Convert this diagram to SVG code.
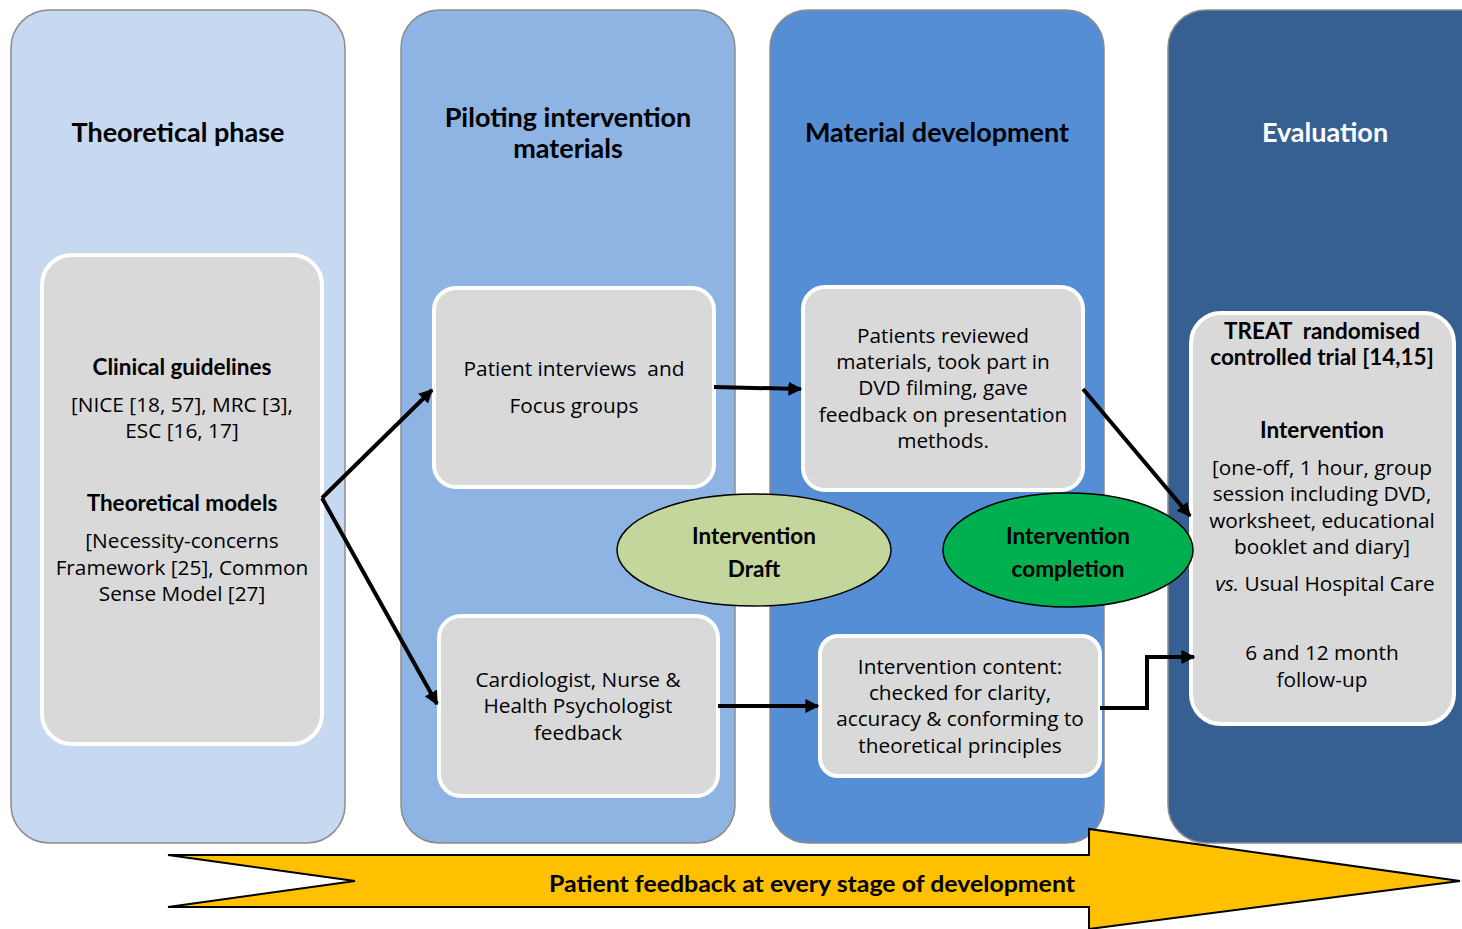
<svg xmlns="http://www.w3.org/2000/svg" width="1462" height="929" viewBox="0 0 1462 929">
<style>
.col{stroke:#8c8c8c;stroke-width:1.5}
.box{fill:#d9d9d9;stroke:#fff;stroke-width:4}
.h{font-family:Lato,"Open Sans",sans-serif;font-weight:bold;font-size:27px;text-anchor:middle}
.t{font-family:"Open Sans","Liberation Sans",sans-serif;font-size:20.8px;text-anchor:middle;fill:#000}
.b{font-family:Lato,"Open Sans",sans-serif;font-weight:bold;font-size:22.5px;text-anchor:middle}
.c{stroke:#000;stroke-width:4;fill:none;marker-end:url(#ah)}
</style>
<defs>
<marker id="ah" viewBox="0 0 10 10" refX="9" refY="5" markerWidth="3.5" markerHeight="3.5" orient="auto" markerUnits="strokeWidth">
<path d="M0,0 L10,5 L0,10 Z" fill="#000"/>
</marker>
</defs>
<rect width="1462" height="929" fill="#fff"/>
<g id="col1"><rect class="col" x="11" y="10" width="334" height="833" rx="38" fill="#c6d9f0"/>
<text class="h" x="178" y="142">Theoretical phase</text></g>
<g id="col2"><rect class="col" x="401" y="10" width="334" height="833" rx="38" fill="#8eb4e3"/>
<text class="h" x="568" y="127">Piloting intervention</text><text class="h" x="568" y="158">materials</text></g>
<g id="col3"><rect class="col" x="770" y="10" width="334" height="833" rx="38" fill="#558ed5"/>
<text class="h" x="937" y="142">Material development</text></g>
<g id="col4"><rect class="col" x="1168" y="10" width="334" height="833" rx="38" fill="#366092"/>
<text class="h" x="1325" y="142" fill="#fff">Evaluation</text></g>

<g id="arrowband"><polygon points="168,855 1089,855 1089,829 1460,881 1089,929 1089,907 168,907 355,881" fill="#ffc000" stroke="#000" stroke-width="2"/>
<text class="b" x="812" y="892" textLength="526" lengthAdjust="spacingAndGlyphs">Patient feedback at every stage of development</text></g>

<g id="theory"><rect class="box" x="42" y="255" width="280" height="489" rx="30"/>
<text class="b" x="182" y="375">Clinical guidelines</text>
<text class="t" x="182" y="412">[NICE [18, 57], MRC [3],</text>
<text class="t" x="182" y="438">ESC [16, 17]</text>
<text class="b" x="182" y="511">Theoretical models</text>
<text class="t" x="182" y="548">[Necessity-concerns</text>
<text class="t" x="182" y="575">Framework [25], Common</text>
<text class="t" x="182" y="601">Sense Model [27]</text></g>

<g id="interviews"><rect class="box" x="434" y="288" width="280" height="199" rx="22"/>
<text class="t" x="574" y="376" xml:space="preserve">Patient interviews  and</text>
<text class="t" x="574" y="413">Focus groups</text></g>

<g id="cardio"><rect class="box" x="439" y="616" width="279" height="180" rx="22"/>
<text class="t" x="578" y="687">Cardiologist, Nurse &amp;</text>
<text class="t" x="578" y="713">Health Psychologist</text>
<text class="t" x="578" y="740">feedback</text></g>

<g id="reviewed"><rect class="box" x="803" y="287" width="280" height="203" rx="22"/>
<text class="t" x="943" y="343">Patients reviewed</text>
<text class="t" x="943" y="369">materials, took part in</text>
<text class="t" x="943" y="395">DVD filming, gave</text>
<text class="t" x="943" y="422">feedback on presentation</text>
<text class="t" x="943" y="448">methods.</text></g>

<g id="content"><rect class="box" x="820" y="636" width="280" height="140" rx="18"/>
<text class="t" x="960" y="674">Intervention content:</text>
<text class="t" x="960" y="700">checked for clarity,</text>
<text class="t" x="960" y="726">accuracy &amp; conforming to</text>
<text class="t" x="960" y="753">theoretical principles</text></g>

<g id="treat"><rect class="box" x="1191" y="313" width="263" height="411" rx="30"/>
<text class="b" x="1322" y="339" xml:space="preserve">TREAT  randomised</text>
<text class="b" x="1322" y="365">controlled trial [14,15]</text>
<text class="b" x="1322" y="438">Intervention</text>
<text class="t" x="1322" y="475">[one-off, 1 hour, group</text>
<text class="t" x="1322" y="501">session including DVD,</text>
<text class="t" x="1322" y="528">worksheet, educational</text>
<text class="t" x="1322" y="554">booklet and diary]</text>
<text class="t" x="1325" y="591"><tspan font-style="italic">vs.</tspan> Usual Hospital Care</text>
<text class="t" x="1322" y="660">6 and 12 month</text>
<text class="t" x="1322" y="687">follow-up</text></g>

<g id="draft"><ellipse cx="754" cy="550" rx="137" ry="56" fill="#c3d69b" stroke="#000" stroke-width="1.5"/>
<text class="b" x="754" y="544">Intervention</text>
<text class="b" x="754" y="577">Draft</text></g>

<g id="completion"><ellipse cx="1068" cy="550" rx="125" ry="57" fill="#00b050" stroke="#000" stroke-width="1.5"/>
<text class="b" x="1068" y="544">Intervention</text>
<text class="b" x="1068" y="577">completion</text></g>

<g id="connectors">
<path class="c" d="M322,498 L432,390"/>
<path class="c" d="M322,498 L437,704"/>
<path class="c" d="M714,387 L801,389"/>
<path class="c" d="M718,706 L818,706"/>
<path class="c" d="M1083,389 L1190,516"/>
<path class="c" d="M1100,708 L1147,708 L1147,657 L1194,657"/>
</g>
</svg>
